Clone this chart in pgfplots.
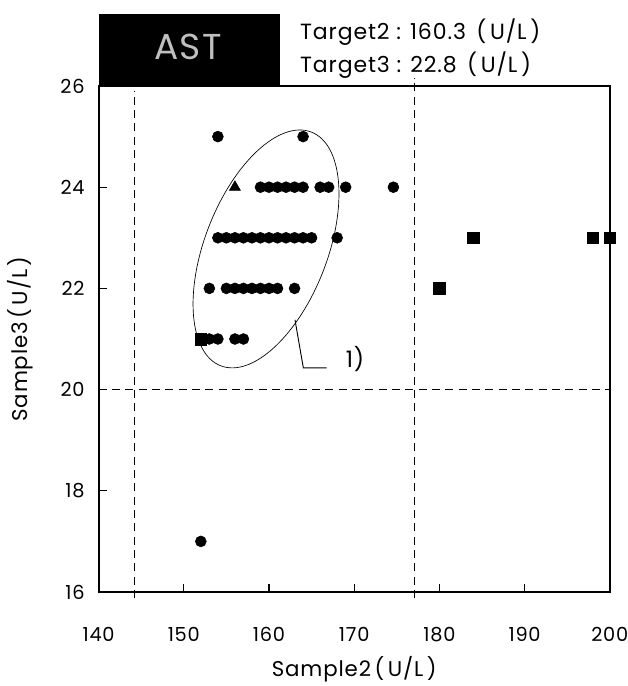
\documentclass[border=0pt]{standalone}
\usepackage{pgfplots}
\pgfplotsset{compat=1.18}
\usepackage{fontspec}
\setmainfont{Poppins}[LetterSpace=4]
\begin{document}
\begin{tikzpicture}
\useasboundingbox (-73.95pt,-70.5pt) rectangle (397.05pt,444pt);
\begin{axis}[
  scale only axis,
  width=383.4pt, height=379.5pt,
  xmin=140, xmax=200, ymin=16, ymax=26,
  xtick={140,150,...,200}, ytick={16,18,...,26},
  tick align=inside, xtick pos=bottom, ytick pos=left,
  major tick length=6pt,
  axis line style={line width=1.5pt},
  every tick/.style={black, line width=0.8pt},
  /pgf/number format/assume math mode=true,
  tick label style={font=\fontsize{14.5}{17}\selectfont},
  xticklabel style={yshift=-23pt},
  yticklabel style={xshift=-7pt},
  xlabel={Sample2\,(\,U/L\,)}, ylabel={Sample3\,(\,U/L\,)},
  label style={font=\fontsize{16}{19}\selectfont},
  xlabel style={at={(axis description cs:0.5,0)}, anchor=center, yshift=-58pt},
  ylabel style={at={(axis description cs:0,0.5)}, anchor=center, yshift=59pt},
  clip=false,
]
% reference lines
\draw[dash pattern=on 6pt off 4pt, line width=0.7pt] (axis cs:144.2,15.88) -- (axis cs:144.2,25.9);
\draw[dash pattern=on 6pt off 4pt, line width=0.7pt] (axis cs:177.1,15.88) -- (axis cs:177.1,26.16);
\draw[dash pattern=on 6pt off 4pt, line width=0.7pt] (axis cs:140,20) -- (axis cs:200,20);
% ellipse and annotation
\draw[line width=0.5pt, shift={(axis cs:159.65,22.78)}, rotate=68.8] (0pt,0pt) ellipse [x radius=94pt, y radius=46pt];
\draw[line width=0.7pt] (axis cs:163.05,21.38) -- (axis cs:164.03,20.43) -- (axis cs:166.77,20.43);
\node[font=\fontsize{17}{20}\selectfont] at (axis cs:170.1,20.6) {1)};
\addplot[only marks, mark=*, mark size=4.1pt, black] coordinates {
(154,25) (164,25)
(159,24) (160,24) (161,24) (162,24) (163,24) (164,24) (166,24) (167,24) (169,24) (174.6,24)
(154,23) (155,23) (156,23) (157,23) (158,23) (159,23) (160,23) (161,23) (162,23) (163,23) (164,23) (165,23) (168,23)
(153,22) (155,22) (156,22) (157,22) (158,22) (159,22) (160,22) (161,22) (163,22)
(153,21) (154,21) (156,21) (157,21)
(152,17)
};
\addplot[only marks, mark=triangle*, mark size=4.8pt, black] coordinates {(156,24)};
\addplot[only marks, mark=square*, mark size=4.4pt, black] coordinates {
(152,21) (180,22) (184,23) (198,23) (200,23)
};
\end{axis}
\fill[black] (0pt,379.5pt) rectangle (136pt,433.5pt);
\node[text=black!25, font=\fontsize{27}{30}\selectfont] at (67pt,409pt) {AST};
\node[anchor=base west, inner sep=0pt, font=\fontsize{16.5}{19}\selectfont] at (151pt,414pt) {Target2 : 160.3 \,(\,U/L\,)};
\node[anchor=base west, inner sep=0pt, font=\fontsize{16.5}{19}\selectfont] at (151pt,389.25pt) {Target3 : 22.8 \,(\,U/L\,)};
\end{tikzpicture}
\end{document}
